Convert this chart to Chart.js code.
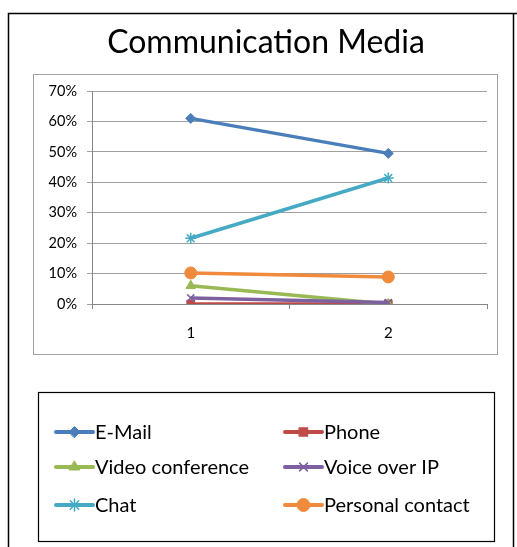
<!DOCTYPE html>
<html>
<head>
<meta charset="utf-8">
<script src="https://cdn.jsdelivr.net/npm/chart.js@4"></script>
<style>
html,body{margin:0;padding:0;background:#fff;}
#wrap{width:517px;height:547px;position:relative;}
</style>
</head>
<body>
<div id="wrap"><canvas id="c" width="517" height="547"></canvas></div>
<script>
const chartTitle = "Communication Media";
const categories = ["1", "2"];
const seriesNames = ["E-Mail", "Phone", "Video conference", "Voice over IP", "Chat", "Personal contact"];
const emailValues = [61.0, 49.5];
const phoneValues = [0.0, 0.0];
const videoValues = [6.0, 0.0];
const voipValues = [2.0, 0.5];
const chatValues = [21.6, 41.4];
const personalValues = [10.2, 8.9];
const yTickMax = 70;
const yTickStep = 10;

const seriesValues = [emailValues, phoneValues, videoValues, voipValues, chatValues, personalValues];
const colors = ["#4A7EBB", "#BE4B48", "#98B954", "#7D60A0", "#46AAC5", "#F08A3C"];
const markers = ["rectRot", "rect", "triangle", "crossRot", "star", "circle"];
const radii = [5, 5.5, 5.5, 5, 5.5, 6];
const FONT = "Lato, 'Open Sans', sans-serif";

const datasets = seriesNames.map((name, i) => ({
  label: name,
  data: seriesValues[i],
  borderColor: colors[i],
  backgroundColor: colors[i],
  pointBackgroundColor: colors[i],
  pointBorderColor: colors[i],
  pointStyle: markers[i],
  pointRadius: radii[i],
  pointBorderWidth: (markers[i] === "crossRot" || markers[i] === "star") ? 1.5 : 1,
  borderWidth: 3.5,
  tension: 0,
  order: seriesNames.length - i
}));

const framePlugin = {
  id: "frame",
  beforeDraw(chart) {
    const ctx = chart.ctx;
    ctx.save();
    ctx.fillStyle = "#fff";
    ctx.fillRect(0, 0, chart.width, chart.height);
    // outer chart border
    ctx.strokeStyle = "#000";
    ctx.lineWidth = 1.5;
    ctx.beginPath();
    ctx.moveTo(8.5, 560);
    ctx.lineTo(8.5, 13.5);
    ctx.lineTo(520, 13.5);
    ctx.stroke();
    ctx.beginPath();
    ctx.moveTo(513.5, 13.5);
    ctx.lineTo(513.5, 560);
    ctx.stroke();
    // plot area border
    ctx.strokeStyle = "#A0A0A0";
    ctx.lineWidth = 1;
    ctx.strokeRect(33.5, 74.5, 464, 280);
    ctx.restore();
  },
  afterDraw(chart) {
    const ctx = chart.ctx;
    ctx.save();
    // title
    ctx.fillStyle = "#000";
    ctx.font = "32px " + FONT;
    ctx.textAlign = "center";
    ctx.textBaseline = "middle";
    ctx.fillText(chartTitle, 266, 43);
    // legend box
    ctx.strokeStyle = "#000";
    ctx.lineWidth = 1.2;
    ctx.strokeRect(38.5, 392.5, 456, 149);
    const colX = [56, 285];
    const rowY = [432, 467, 505];
    ctx.font = "20px " + FONT;
    ctx.textAlign = "left";
    chart.data.datasets.forEach((ds, i) => {
      const x = colX[i % 2];
      const y = rowY[Math.floor(i / 2)];
      ctx.strokeStyle = ds.borderColor;
      ctx.lineWidth = 4;
      ctx.lineCap = "round";
      ctx.beginPath();
      ctx.moveTo(x, y);
      ctx.lineTo(x + 37, y);
      ctx.stroke();
      ctx.fillStyle = ds.pointBackgroundColor;
      ctx.strokeStyle = ds.pointBorderColor;
      ctx.lineWidth = ds.pointBorderWidth;
      Chart.helpers.drawPoint(ctx, {pointStyle: ds.pointStyle, radius: ds.pointRadius + 0.5, rotation: 0, borderWidth: ds.pointBorderWidth}, x + 18.5, y);
      ctx.fillStyle = "#000";
      ctx.fillText(ds.label, x + 39, y + 1);
    });
    ctx.restore();
  }
};

new Chart(document.getElementById("c"), {
  type: "line",
  data: { labels: categories, datasets: datasets },
  options: {
    responsive: false,
    animation: false,
    devicePixelRatio: 1,
    layout: { padding: { left: 30, right: 30, top: 91, bottom: 193 } },
    plugins: {
      legend: { display: false },
      title: { display: false },
      tooltip: { enabled: false }
    },
    scales: {
      x: {
        offset: true,
        grid: { offset: true, drawOnChartArea: false, drawTicks: true, tickLength: 5, color: "#868686" },
        border: { display: true, color: "#868686", width: 1 },
        ticks: { color: "#000", font: { family: FONT, size: 15 }, padding: 15, maxRotation: 0 },
        afterFit(scale) { scale.height = 50; }
      },
      y: {
        min: 0,
        max: yTickMax,
        ticks: {
          stepSize: yTickStep,
          color: "#000",
          font: { family: FONT, size: 14.5 },
          padding: 10,
          callback: v => v + "%"
        },
        grid: { color: "#A0A0A0", tickLength: 5, lineWidth: 1 },
        border: { display: true, color: "#868686", width: 1 },
        afterFit(scale) { scale.width = 62; }
      }
    }
  },
  plugins: [framePlugin]
});
</script>
</body>
</html>
